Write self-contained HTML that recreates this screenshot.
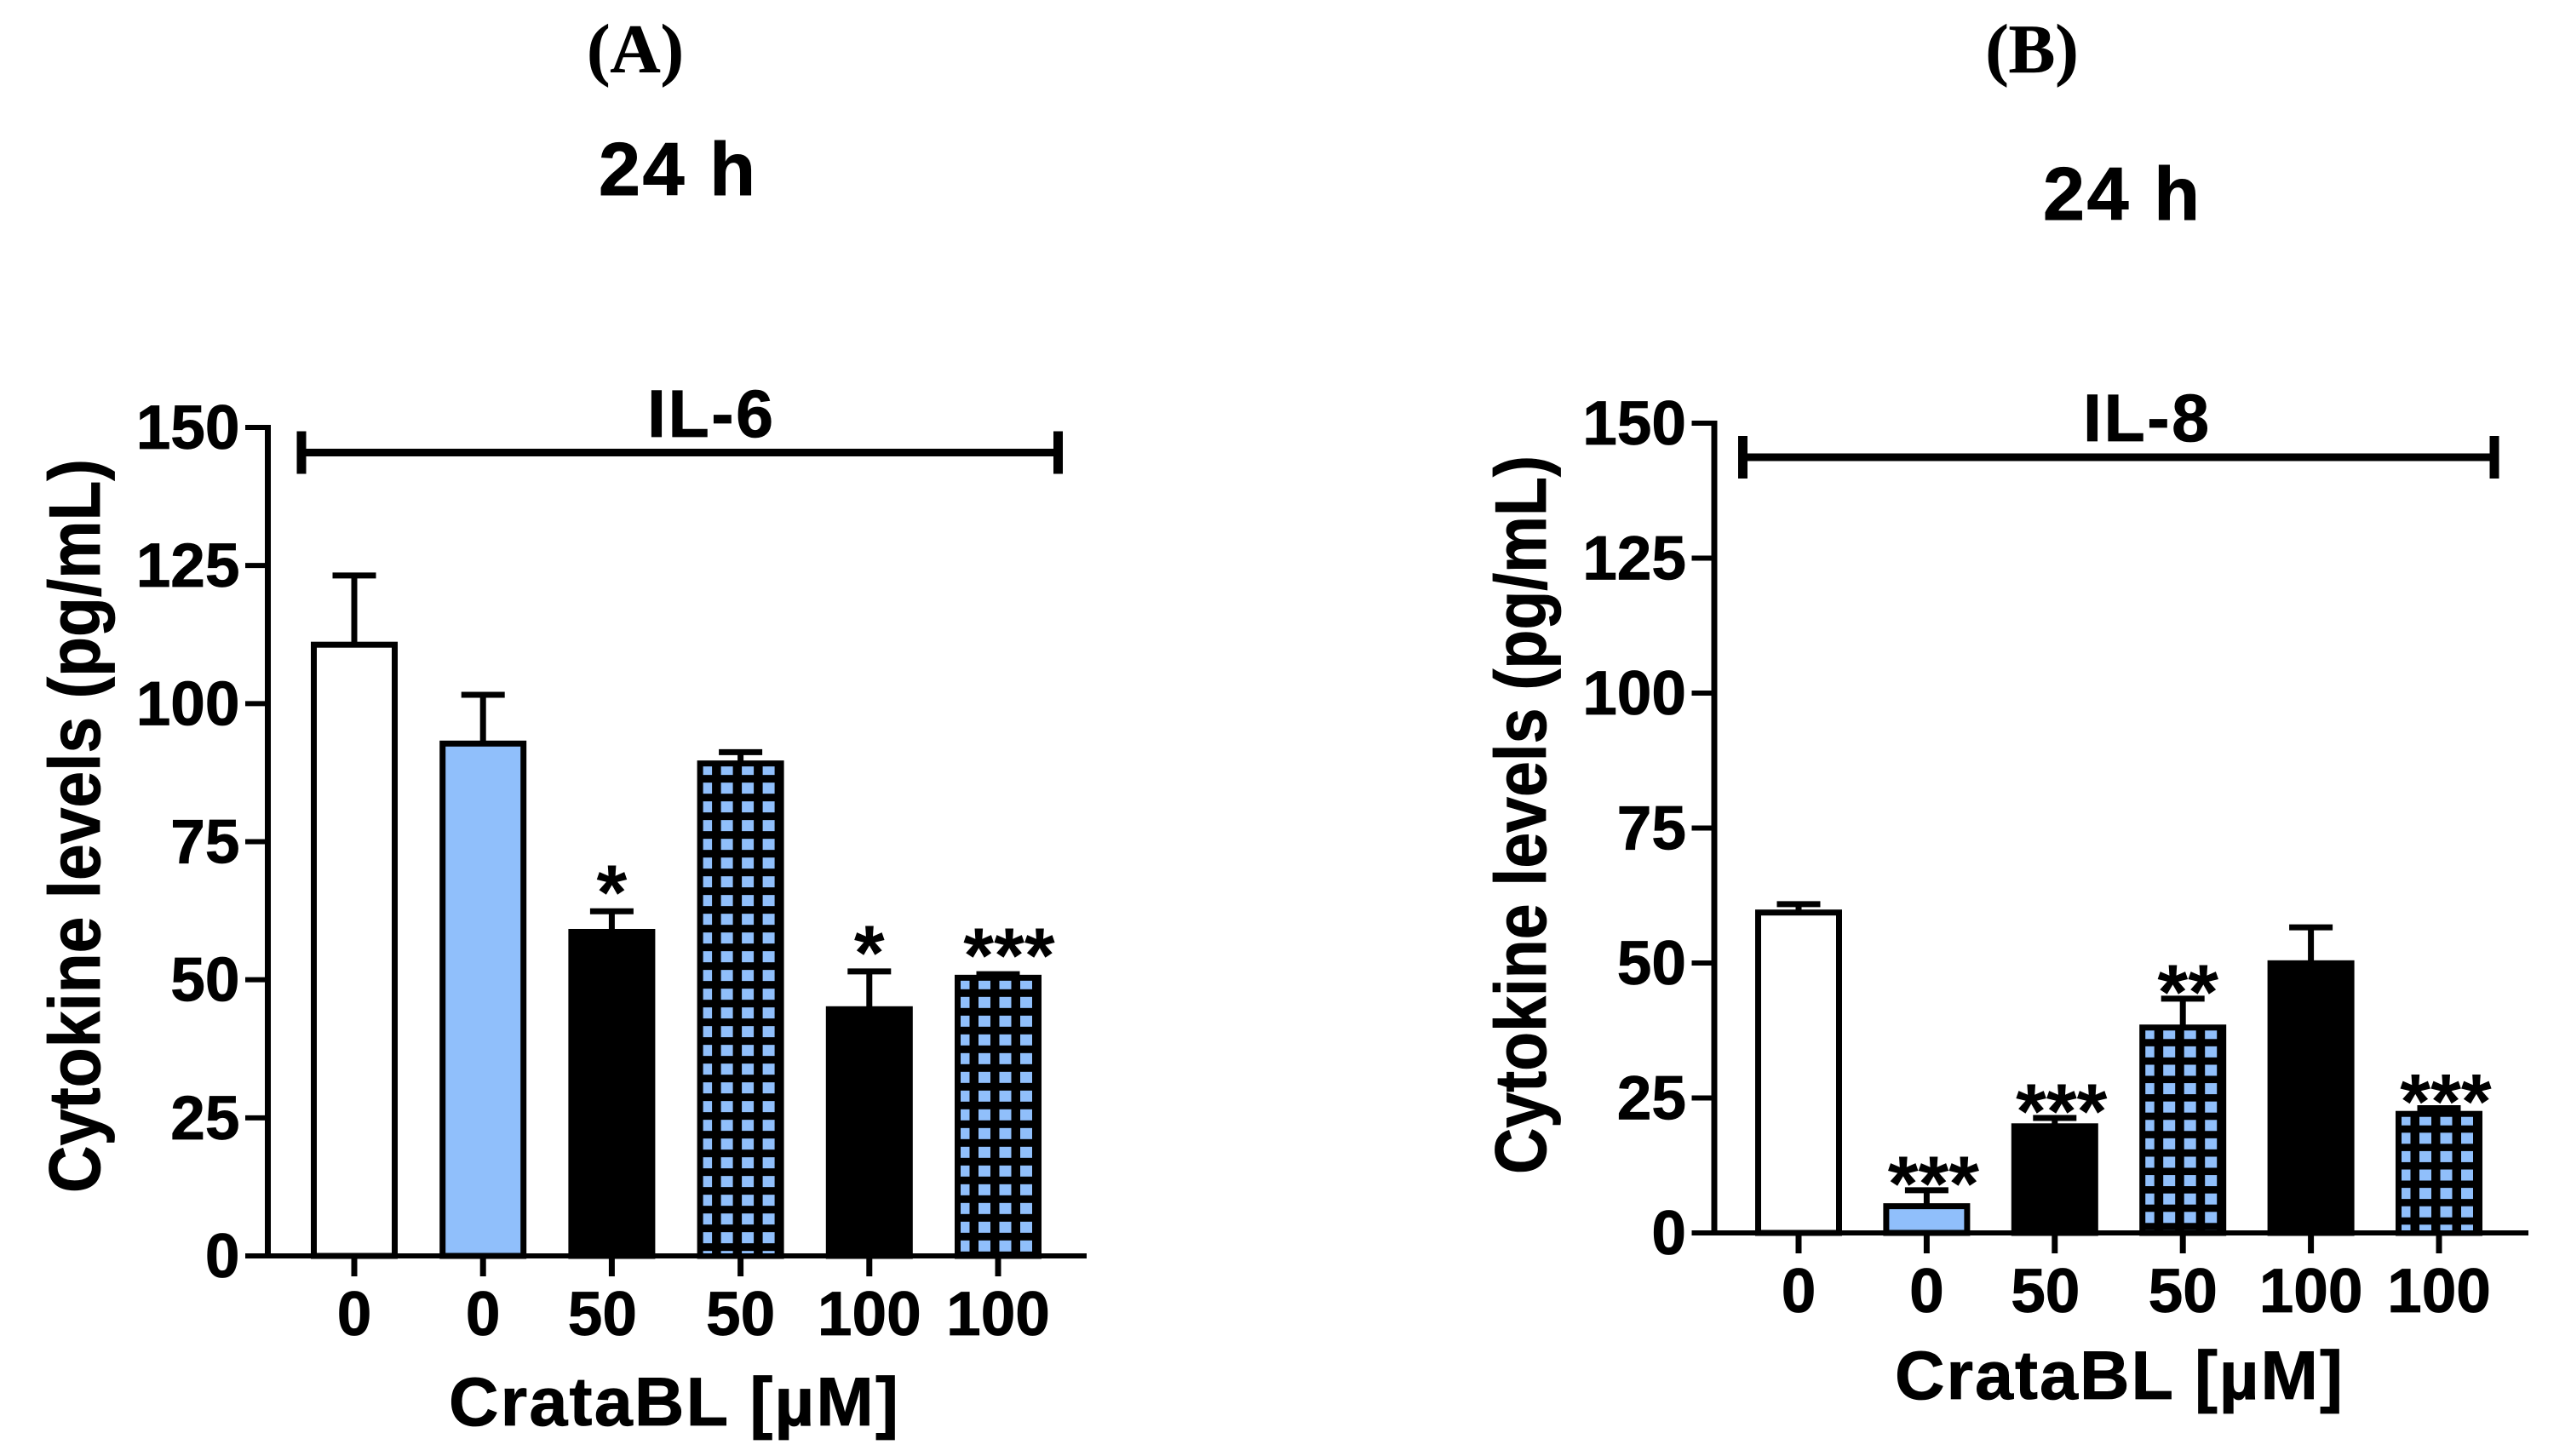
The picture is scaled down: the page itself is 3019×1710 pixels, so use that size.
<!DOCTYPE html>
<html lang="en">
<head>
<meta charset="utf-8">
<title>Cytokine levels at 24 h</title>
<style>
  html, body { margin: 0; padding: 0; background: #fff; }
  svg { display: block; }
  text { font-family: "Liberation Sans", Arial, sans-serif; font-weight: bold; fill: #000; }
  .panel-letter { font-family: "Liberation Serif", serif; font-size: 82px; stroke: #000; stroke-width: 0.6px; }
  .time { font-size: 88px; stroke: #000; stroke-width: 1px; }
  .cytokine { font-size: 79px; stroke: #000; stroke-width: 0.8px; }
  .y-title { font-size: 85px; stroke: #000; stroke-width: 0.8px; }
  .x-title { font-size: 81px; stroke: #000; stroke-width: 0.8px; }
  .tick-label { font-size: 73px; stroke: #000; stroke-width: 0.8px; }
  .star { font-size: 92px; }
</style>
</head>
<body>
<svg id="figure" xmlns="http://www.w3.org/2000/svg" width="3019" height="1710" viewBox="0 0 3019 1710">
  <rect width="3019" height="1710" fill="#fff"/>

  <text class="panel-letter" x="746" y="85" text-anchor="middle">(A)</text>
  <text class="time" x="703" y="229" textLength="184" lengthAdjust="spacing">24 h</text>
  <text class="panel-letter" x="2386" y="85" text-anchor="middle">(B)</text>
  <text class="time" x="2399" y="258" textLength="184" lengthAdjust="spacing">24 h</text>

  <g id="panel-a">
    <text class="cytokine" x="760" y="513" textLength="148" lengthAdjust="spacing">IL-6</text>
    <text class="y-title" transform="translate(117 970) rotate(-90)" text-anchor="middle" textLength="862" lengthAdjust="spacingAndGlyphs">Cytokine levels (pg/mL)</text>
    <text class="x-title" x="527" y="1674" textLength="528" lengthAdjust="spacing">CrataBL [µM]</text>
  </g>

  <g id="panel-b">
    <text class="cytokine" x="2446" y="518" textLength="148" lengthAdjust="spacing">IL-8</text>
    <text class="y-title" transform="translate(1815 957) rotate(-90)" text-anchor="middle" textLength="844" lengthAdjust="spacingAndGlyphs">Cytokine levels (pg/mL)</text>
    <text class="x-title" x="2225" y="1643" textLength="526" lengthAdjust="spacing">CrataBL [µM]</text>
  </g>
</svg>

<script>
// ---- Chart data ----
const doseLabels = ['0', '0', '50', '50', '100', '100'];
const treatments = ['plain', 'blue', 'solid', 'hatched', 'solid', 'hatched'];
const yTickValues = [0, 25, 50, 75, 100, 125, 150];

const il6Means = [111.2, 93.3, 59.2, 89.7, 45.2, 50.9];
const il6Upper = [123.2, 101.6, 62.4, 91.2, 51.5, 51.0];
const il6Stars = ['', '', '*', '', '*', '***'];

const il8Means = [59.9, 5.5, 20.3, 38.6, 50.5, 22.6];
const il8Upper = [60.9, 7.9, 21.3, 43.4, 56.6, 23.1];
const il8Stars = ['', '***', '***', '**', '', '***'];

// ---- Rendering ----
const NS = 'http://www.w3.org/2000/svg';
const BLUE = '#90BFFB';
const LINE = 7;

function make(tag, attrs, parent) {
  const node = document.createElementNS(NS, tag);
  for (const key in attrs) node.setAttribute(key, attrs[key]);
  parent.appendChild(node);
  return node;
}

function drawPanel(panel, means, upper, stars) {
  const root = document.getElementById(panel.id);
  const yScale = v => panel.y0 + (panel.y150 - panel.y0) * v / 150;
  const xScale = i => panel.x0 + panel.step * i;

  // error bars sit behind the bars
  means.forEach((mean, i) => {
    const cx = xScale(i);
    const stem = make('line', { x1: cx, x2: cx, y1: yScale(mean) + LINE, y2: yScale(upper[i]), stroke: '#000', 'stroke-width': LINE }, root);
    
    
    const cap = make('line', { x1: cx - 25.5, x2: cx + 25.5, y1: yScale(upper[i]), y2: yScale(upper[i]), stroke: '#000', 'stroke-width': LINE }, root);
    
    
  });

  // bars
  means.forEach((mean, i) => {
    const left = xScale(i) - panel.barWidth / 2;
    const top = yScale(mean);
    const kind = treatments[i];
    const fill = kind === 'plain' ? '#fff' : kind === 'blue' ? BLUE : '#000';
    const bar = make('rect', {
      x: left + LINE / 2, y: top + LINE / 2,
      width: panel.barWidth - LINE, height: panel.y0 - top - LINE / 2,
      fill: fill, stroke: '#000', 'stroke-width': LINE
    }, root);
    
    

    if (kind === 'hatched') {
      const cellBottom = panel.y0 - 3;
      for (let row = 0; top + 4 + panel.rowStep * row < cellBottom; row++) {
        for (let col = 0; col < 4; col++) {
          const cx0 = Math.max(left + 3.5 + 24.5 * col, left + 7);
          const cx1 = left + 3.5 + 24.5 * col + 14;
          const cy0 = Math.max(top + 4 + panel.rowStep * row, top + 7);
          const cy1 = Math.min(top + 4 + panel.rowStep * row + 13, cellBottom);
          if (cy1 <= cy0) continue;
          const cell = make('rect', { x: cx0, y: cy0, width: cx1 - cx0, height: cy1 - cy0, fill: BLUE }, root);
          
          
        }
      }
    }
  });

  // y axis
  const yAxis = make('line', { x1: panel.axisX, x2: panel.axisX, y1: yScale(150) - 3, y2: panel.y0 + 3, stroke: '#000', 'stroke-width': LINE }, root);
  
  

  yTickValues.forEach(v => {
    const tick = make('line', { x1: panel.axisX - 26.5, x2: panel.axisX, y1: yScale(v), y2: yScale(v), stroke: '#000', 'stroke-width': 6 }, root);
    
    
    const label = make('text', { class: 'tick-label', x: panel.axisX - 33, y: yScale(v) + 25, 'text-anchor': 'end' }, root);
    label.textContent = String(v);
    
    
  });

  // x axis
  const xAxis = make('line', { x1: panel.axisX - 26.5, x2: panel.axisEnd, y1: panel.y0, y2: panel.y0, stroke: '#000', 'stroke-width': 6 }, root);
  
  

  doseLabels.forEach((dose, i) => {
    const cx = xScale(i);
    const tick = make('line', { x1: cx, x2: cx, y1: panel.y0, y2: panel.y0 + 24, stroke: '#000', 'stroke-width': LINE }, root);
    
    
    const shift = i === 2 ? -11 : 0;
    const label = make('text', { class: 'tick-label', x: cx + shift, y: panel.y0 + 93, 'text-anchor': 'middle' }, root);
    label.textContent = dose;
    
    
  });

  // significance stars: baseline sits below the error cap because the glyph rides high
  stars.forEach((mark, i) => {
    if (!mark) return;
    const shift = mark.length === 3 ? panel.tripleShift : panel.starShift;
    const star = make('text', { class: 'star', x: xScale(i) + shift, y: yScale(upper[i]) + panel.starDrop, 'text-anchor': 'middle' }, root);
    star.textContent = mark;
    
    
  });

  // bracket over the group
  const b = panel.bracket;
  const span = make('line', { x1: b.left, x2: b.right, y1: b.y, y2: b.y, stroke: '#000', 'stroke-width': 9 }, root);
  
  
  const endLeft = make('line', { x1: b.left, x2: b.left, y1: b.y - 25, y2: b.y + 25, stroke: '#000', 'stroke-width': 11 }, root);
  
  
  const endRight = make('line', { x1: b.right, x2: b.right, y1: b.y - 25, y2: b.y + 25, stroke: '#000', 'stroke-width': 11 }, root);
  
  
}

drawPanel({
  id: 'panel-a', key: 'il6',
  y0: 1475, y150: 502, axisX: 314.5, axisEnd: 1276,
  x0: 416, step: 151.2, barWidth: 102, rowStep: 22,
  starDrop: 10, starShift: 0, tripleShift: 13,
  bracket: { left: 354, right: 1242.5, y: 531.5 }
}, il6Means, il6Upper, il6Stars);

drawPanel({
  id: 'panel-b', key: 'il8',
  y0: 1448, y150: 497, axisX: 2013, axisEnd: 2969,
  x0: 2112, step: 150.4, barWidth: 102, rowStep: 21.6,
  starDrop: 24, starShift: 6, tripleShift: 8,
  bracket: { left: 2046.5, right: 2929, y: 537 }
}, il8Means, il8Upper, il8Stars);
</script>
</body>
</html>
